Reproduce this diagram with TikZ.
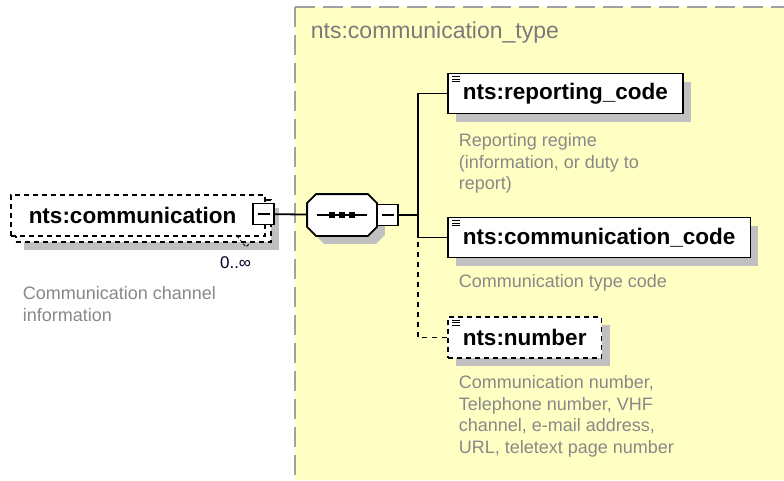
\documentclass[tikz,border=0pt]{standalone}
\usepackage{fontspec}
\setmainfont{Liberation Sans}
\usetikzlibrary{shadows}

\definecolor{panel}{RGB}{255,255,196}
\definecolor{panelline}{RGB}{160,160,160}
\definecolor{doctext}{RGB}{136,136,136}
\definecolor{shade}{RGB}{192,192,192}

\newcommand{\namefont}{\fontsize{22.5}{27}\selectfont\bfseries}
\newcommand{\docfont}{\fontsize{18}{21.5}\selectfont}
\newcommand{\elemicon}[1]{%
	\foreach \d in {4,6.5,9}
	{
		\draw [line width=1] ([shift={(5,\d)}]#1.north west) -- ++(8,0);
	}
}

\begin{document}
\begin{tikzpicture}[x=1pt, y=-1pt, line width=1.8,
	elem/.style={draw, fill=white, rectangle, anchor=west, minimum height=40, inner xsep=15, font=\namefont},
	shadowed/.style={drop shadow={shadow xshift=8pt, shadow yshift=-8pt, fill=shade, opacity=1}},
	optional/.style={line width=1.5, dash pattern=on 5pt off 4pt},
	toggle/.style={draw, fill=white, rectangle, minimum width=21, minimum height=21, inner sep=0, line width=1.6,
		path picture={\draw ([xshift=-6pt]path picture bounding box.center) -- ([xshift=6pt]path picture bounding box.center);}},
	doc/.style={anchor=north west, inner sep=0, align=left, text=doctext, font=\docfont}]

	\useasboundingbox (0,0) rectangle (784,480);

	\fill [panel] (295,7) rectangle (784,480);
	\draw [panelline, line width=2, dash pattern=on 20pt off 8pt] (295,7) -- (295,480);
	\draw [panelline, line width=2, dash pattern=on 20pt off 8pt] (295,7) -- (784,7);
	\node [anchor=west, inner sep=0, text=doctext!90!black, font=\fontsize{23}{27}\selectfont] (typename) at (310,33) {nts:communication\_type};

	\node [elem, optional, shadowed, minimum width=255, minimum height=42] (commback) at (15,221) {};
	\node [elem, optional, minimum height=41, text width=218, align=left, inner xsep=18] (comm) at (10,215.5) {nts:communication};
	\draw [line width=0.8, dash pattern=on 3pt off 2pt] (237,236) -- (246,247) -- (251,242);
	\node [toggle] (combtn) at (263.5,214) {};
	\node [anchor=base east, inner sep=0, font=\fontsize{17}{20}\selectfont, text=black!85!blue] (mult) at (252,268) {0..∞};
	\node [doc] (commdoc) at (22,286) {Communication channel\\information};

	\node [minimum width=68, minimum height=40, inner sep=0] (seq) at (342,215) {};
	\draw [fill=white, shadowed] ([xshift=9pt]seq.north west) -- ([xshift=-9pt]seq.north east) -- ([yshift=-9pt]seq.north east)
		-- ([yshift=9pt]seq.south east) -- ([xshift=-9pt]seq.south east) -- ([xshift=9pt]seq.south west)
		-- ([yshift=9pt]seq.south west) -- ([yshift=-9pt]seq.north west) -- cycle;
	\draw [line width=1.2] ([xshift=-25pt]seq.center) -- ([xshift=25pt]seq.center);
	\foreach \dx in {-10,0,10}
	{
		\fill ([xshift=\dx pt]seq.center) +(-3,-3) rectangle +(3,3);
	}
	\node [toggle] (seqbtn) at (387.5,215) {};

	\node [elem, shadowed] (reporting) at (447,93.5) {nts:reporting\_code};
	\node [elem, shadowed] (commcode) at (447,237.5) {nts:communication\_code};
	\node [elem, optional, shadowed, minimum height=41] (number) at (447,337.5) {nts:number};
	\elemicon{reporting}
	\elemicon{commcode}
	\elemicon{number}

	\node [doc] (reportingdoc) at (458,133) {Reporting regime\\(information, or duty to\\report)};
	\node [doc] (commcodedoc) at (458,274) {Communication type code};
	\node [doc] (numberdoc) at (458,375) {Communication number,\\Telephone number, VHF\\channel, e-mail address,\\URL, teletext page number};

	\coordinate (fork) at (418,215);
	\draw (combtn) -- (seq);
	\draw (seqbtn) -- (fork);
	\draw (reporting.west) -| (fork);
	\draw (commcode.west) -| (fork);
	\draw [dash pattern=on 5pt off 5pt] (number.west) -| (fork);

\end{tikzpicture}
\end{document}
